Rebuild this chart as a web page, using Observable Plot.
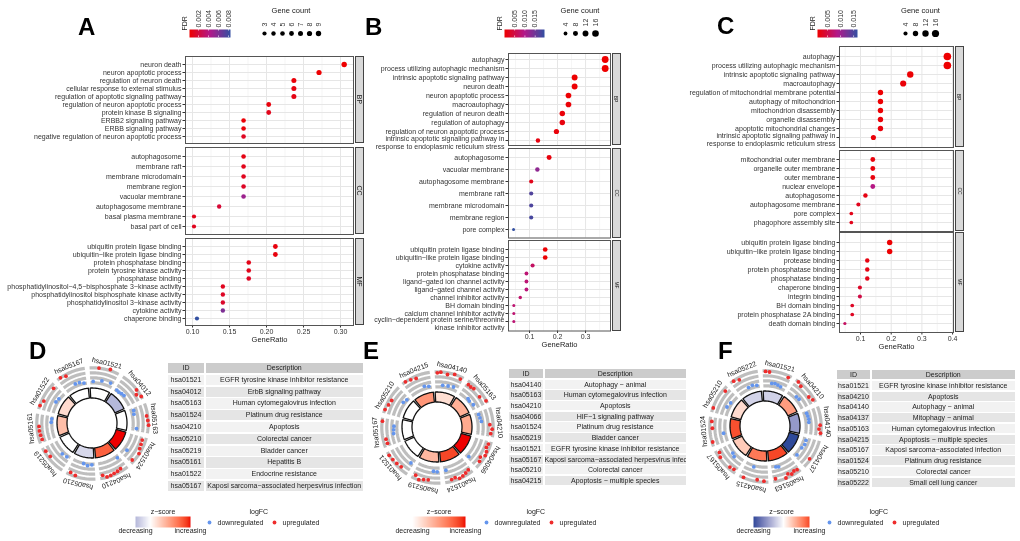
<!DOCTYPE html>
<html><head><meta charset="utf-8">
<script src="https://cdn.jsdelivr.net/npm/d3@7"></script>
<script src="https://cdn.jsdelivr.net/npm/@observablehq/plot@0.6"></script>
<style>
body{margin:0;background:#fff;}
#fig{position:relative;width:1020px;height:541px;overflow:hidden;background:#fff;font-family:"Liberation Sans",Arial,sans-serif;color:#222;}
#fig > *{will-change:transform;}
.letter{position:absolute;font-weight:bold;font-size:24px;line-height:24px;color:#000;}
.strip{position:absolute;background:#D9D9D9;border:0.8px solid #444;box-sizing:border-box;display:flex;align-items:center;justify-content:center;overflow:hidden;}
.strip span{transform:rotate(90deg);display:block;white-space:nowrap;color:#1a1a1a;}
.tbl{position:absolute;overflow:hidden;display:grid;gap:1.5px;background:#fff;font-size:7px;color:#222;}
.tbl div{display:block;text-align:center;white-space:nowrap;overflow:visible;}
</style></head><body><div id="fig"></div><script>
// ---------------- DATA ----------------
const A_terms = ["neuron death","neuron apoptotic process","regulation of neuron death","cellular response to external stimulus","regulation of apoptotic signaling pathway","regulation of neuron apoptotic process","protein kinase B signaling","ERBB2 signaling pathway","ERBB signaling pathway","negative regulation of neuron apoptotic process",
"autophagosome","membrane raft","membrane microdomain","membrane region","vacuolar membrane","autophagosome membrane","basal plasma membrane","basal part of cell",
"ubiquitin protein ligase binding","ubiquitin−like protein ligase binding","protein phosphatase binding","protein tyrosine kinase activity","phosphatase binding","phosphatidylinositol−4,5−bisphosphate 3−kinase activity","phosphatidylinositol bisphosphate kinase activity","phosphatidylinositol 3−kinase activity","cytokine activity","chaperone binding"];
const A_cat = ["BP","BP","BP","BP","BP","BP","BP","BP","BP","BP","CC","CC","CC","CC","CC","CC","CC","CC","MF","MF","MF","MF","MF","MF","MF","MF","MF","MF"];
const A_ratio = [0.305,0.271,0.237,0.237,0.237,0.203,0.203,0.169,0.169,0.169, 0.169,0.169,0.169,0.169,0.169,0.136,0.102,0.102, 0.212,0.212,0.176,0.176,0.176,0.141,0.141,0.141,0.141,0.106];
const A_count = [9,8,7,7,7,6,6,5,5,5, 5,5,5,5,5,4,3,3, 6,6,5,5,5,4,4,4,4,3];
const A_fdr = [0.0002,0.0003,0.0005,0.0007,0.0008,0.0006,0.0010,0.0004,0.0005,0.0012, 0.0008,0.0010,0.0011,0.0013,0.0050,0.0018,0.0010,0.0011, 0.0006,0.0006,0.0009,0.0010,0.0013,0.0011,0.0013,0.0015,0.0060,0.0084];

const B_terms = ["autophagy","process utilizing autophagic mechanism","intrinsic apoptotic signaling pathway","neuron death","neuron apoptotic process","macroautophagy","regulation of neuron death","regulation of autophagy","regulation of neuron apoptotic process","intrinsic apoptotic signaling pathway in\nresponse to endoplasmic reticulum stress",
"autophagosome","vacuolar membrane","autophagosome membrane","membrane raft","membrane microdomain","membrane region","pore complex",
"ubiquitin protein ligase binding","ubiquitin−like protein ligase binding","cytokine activity","protein phosphatase binding","ligand−gated ion channel activity","ligand−gated channel activity","channel inhibitor activity","BH domain binding","calcium channel inhibitor activity","cyclin−dependent protein serine/threonine\nkinase inhibitor activity"];
const B_cat = ["BP","BP","BP","BP","BP","BP","BP","BP","BP","BP","CC","CC","CC","CC","CC","CC","CC","MF","MF","MF","MF","MF","MF","MF","MF","MF","MF"];
const B_ratio = [0.370,0.370,0.261,0.261,0.239,0.239,0.217,0.217,0.196,0.130, 0.170,0.128,0.106,0.106,0.106,0.106,0.043, 0.156,0.156,0.111,0.089,0.089,0.089,0.067,0.044,0.044,0.044];
const B_count = [17,17,12,12,11,11,10,10,9,6, 8,6,5,5,5,5,2, 7,7,5,4,4,4,3,2,2,2];
const B_fdr = [0.0001,0.0001,0.0002,0.0003,0.0003,0.0006,0.0007,0.0010,0.0009,0.0012, 0.0010,0.0125,0.0020,0.0172,0.0175,0.0180,0.0195, 0.0004,0.0004,0.0070,0.0082,0.0082,0.0085,0.0076,0.0080,0.0080,0.0082];

const C_terms = ["autophagy","process utilizing autophagic mechanism","intrinsic apoptotic signaling pathway","macroautophagy","regulation of mitochondrial membrane potential","autophagy of mitochondrion","mitochondrion disassembly","organelle disassembly","apoptotic mitochondrial changes","intrinsic apoptotic signaling pathway in\nresponse to endoplasmic reticulum stress",
"mitochondrial outer membrane","organelle outer membrane","outer membrane","nuclear envelope","autophagosome","autophagosome membrane","pore complex","phagophore assembly site",
"ubiquitin protein ligase binding","ubiquitin−like protein ligase binding","protease binding","protein phosphatase binding","phosphatase binding","chaperone binding","integrin binding","BH domain binding","protein phosphatase 2A binding","death domain binding"];
const C_cat = ["BP","BP","BP","BP","BP","BP","BP","BP","BP","BP","CC","CC","CC","CC","CC","CC","CC","CC","MF","MF","MF","MF","MF","MF","MF","MF","MF","MF"];
const C_ratio = [0.383,0.383,0.262,0.239,0.165,0.165,0.165,0.165,0.165,0.142, 0.140,0.140,0.140,0.140,0.116,0.093,0.070,0.070, 0.195,0.195,0.122,0.122,0.122,0.098,0.098,0.073,0.073,0.049];
const C_count = [18,18,12,11,8,8,8,8,8,7, 6,6,6,6,5,4,3,3, 8,8,5,5,5,4,4,3,3,2];
const C_fdr = [0.0012,0.0012,0.0014,0.0016,0.0013,0.0013,0.0014,0.0016,0.0018,0.0016, 0.0018,0.0018,0.0019,0.0085,0.0022,0.0028,0.0026,0.0027, 0.0013,0.0013,0.0021,0.0022,0.0026,0.0034,0.0050,0.0032,0.0031,0.0065];
const C_fdrRange = [0.00115, 0.0165];

const A_fdrTicks = [0.002,0.004,0.006,0.008];
const BC_fdrTicks = [0.005,0.010,0.015];
const A_countTicks = [3,4,5,6,7,8,9];
const BC_countTicks = [4,8,12,16];

const D_ids = ["hsa01521","hsa04012","hsa05163","hsa01524","hsa04210","hsa05210","hsa05219","hsa05161","hsa01522","hsa05167"];
const D_desc = ["EGFR tyrosine kinase inhibitor resistance","ErbB signaling pathway","Human cytomegalovirus infection","Platinum drug resistance","Apoptosis","Colorectal cancer","Bladder cancer","Hepatitis B","Endocrine resistance","Kaposi sarcoma−associated herpesvirus infection"];
const D_z = [0,-1.1,0,3.0,2.3,-0.6,0,1.0,0.55,0];
const D_lfc = [[-1.6,2.1,-1.2,2.4,-1.0],[-1.8,-1.9,-1.7,-1.6,2.0,1.2,2.1],[-1.3,-1.5,1.8,2.0,2.2,-1.0],[1.2,1.3,1.5,2.0,-1.2,1.6],[-1.5,1.4,1.6,1.7,1.9,2.0,1.3],[-1.8,-1.5,-1.9,1.8,1.5],[-1.6,-1.4,1.5,1.7],[1.3,1.4,1.5,1.5,-1.8,-1.9],[2.0,1.5,-1.5,-1.7,1.2],[2.1,1.7,-1.3,-1.4,-1.8]];

const E_ids = ["hsa04140","hsa05163","hsa04210","hsa04066","hsa01524","hsa05219","hsa01521","hsa05167","hsa05210","hsa04215"];
const E_desc = ["Autophagy − animal","Human cytomegalovirus infection","Apoptosis","HIF−1 signaling pathway","Platinum drug resistance","Bladder cancer","EGFR tyrosine kinase inhibitor resistance","Kaposi sarcoma−associated herpesvirus infection","Colorectal cancer","Apoptosis − multiple species"];
const E_z = [0.5,1.2,1.3,3.0,2.6,1.1,0,0,0,1.6];
const E_lfc = [[1.8,2.0,-1.5,1.6,-1.4,2.1,-1.2,1.5],[1.3,1.2,1.4,-1.6,-1.8,1.1,-1.5,2.0],[-1.3,-1.2,-1.0,1.2,1.8,1.5],[1.5,1.3,1.8,2.0,1.1,1.6,-1.4],[1.2,1.5,1.8,2.0,1.4,1.6,-1.2],[-1.0,-1.1,1.4,1.6,2.0,1.2],[-1.0,1.5,1.7,1.9,2.1],[1.2,1.3,-1.0,-1.1,-1.2,2.0],[2.0,1.6,1.4,-1.5,-1.8],[2.1,1.8,1.5,-1.3,-1.6]];

const F_ids = ["hsa01521","hsa04210","hsa04140","hsa04137","hsa05163","hsa04215","hsa05167","hsa01524","hsa05210","hsa05222"];
const F_desc = ["EGFR tyrosine kinase inhibitor resistance","Apoptosis","Autophagy − animal","Mitophagy − animal","Human cytomegalovirus infection","Apoptosis − multiple species","Kaposi sarcoma−associated infection","Platinum drug resistance","Colorectal cancer","Small cell lung cancer"];
const F_z = [-0.7,1.5,-1.6,-3.0,2.6,2.0,0.8,2.5,0.55,-0.65];
const F_lfc = [[1.9,1.8,-1.2,-1.1,-1.3,-1.5,1.6],[2.0,1.5,-1.4,-1.3,1.2,1.7],[-1.3,-1.2,-1.1,-1.2,1.8,1.5,2.0],[-1.4,-1.3,-1.6,1.8,-1.5],[1.5,1.3,1.7,1.2,2.0,-1.5,-1.7,1.4],[1.8,1.6,-1.6,2.0],[1.4,1.6,-1.2,-1.6,1.8,1.3],[1.9,-1.5,1.4,1.6],[2.0,-1.3,-1.6,1.5],[2.0,1.5,-1.5,-1.3,-1.6]];

// ---------------- HELPERS ----------------
const RED = "#EE0000", MAG = "#B2188A", BLUE = "#3350A2";
const ZBLUE = "#2F4A9A";
const fig = document.getElementById("fig");
const baseStyle = {background:"transparent", overflow:"visible", maxWidth:"none", fontFamily:"'Liberation Sans', Arial, sans-serif", color:"#333"};
function place(el, left, top){ el.style.position="absolute"; el.style.left=left+"px"; el.style.top=top+"px"; fig.appendChild(el); return el; }
function letter(t, left, top){ const d=document.createElement("div"); d.className="letter"; d.textContent=t; place(d,left,top); }
function strip(label, left, top, w, h, fs){ const d=document.createElement("div"); d.className="strip"; d.style.width=w+"px"; d.style.height=h+"px"; const s=document.createElement("span"); s.textContent=label; s.style.fontSize=fs+"px"; d.appendChild(s); place(d,left,top); }
function fdrColor(domain){ return {type:"linear", domain:[domain[0], (domain[0]+domain[1])/2, domain[1]], range:[RED,MAG,BLUE], interpolate:"rgb"}; }
const isMulti = t => t.includes("\n");

function dotPanel(terms, cat, ratio, count, fdr, cfg){
  const rows = terms.map((t,i)=>({term:t, cat:cat[i], ratio:ratio[i], count:count[i], fdr:fdr[i]}));
  ["BP","CC","MF"].forEach((c,k)=>{
    const data = rows.filter(d=>d.cat===c);
    const [top,bottom] = cfg.facets[c];
    const last = k===2;
    const ML=200, MT=1, MB = last?26:1, W = cfg.plotRight-cfg.plotLeft;
    const chart = Plot.plot({
      width: ML+W+1, height: MT+(bottom-top)+MB,
      marginLeft: ML, marginRight:1, marginTop:MT, marginBottom:MB,
      style: baseStyle,
      x: {domain: cfg.xDomain, axis:null},
      y: {type:"point", domain: data.map(d=>d.term), padding:0.6, axis:null},
      color: fdrColor(cfg.fdrDomain),
      r: cfg.r,
      marks: [
        Plot.gridX(cfg.xMinor, {stroke:"#EFEFEF", strokeOpacity:1, strokeWidth:0.6}),
        Plot.gridX(cfg.xTicks, {stroke:"#E6E6E6", strokeOpacity:1, strokeWidth:1}),
        Plot.gridY({stroke:"#E6E6E6", strokeOpacity:1, strokeWidth:1}),
        Plot.axisY({tickSize:2.5, tickPadding:1.5, fontSize:7, label:null, tickFormat:t=>isMulti(t)?"":t}),
        Plot.text(data.filter(d=>isMulti(d.term)), {y:"term", text:"term", frameAnchor:"left", textAnchor:"end", lineAnchor:"top", dx:-4, dy:-4.8, fontSize:7, lineHeight:1.15, fill:"currentColor"}),
        last ? Plot.axisX({ticks:cfg.xTicks, tickFormat:cfg.xFormat, tickSize:2.5, tickPadding:1, fontSize:7, label:null}) : null,
        last ? Plot.text(["GeneRatio"], {frameAnchor:"bottom", dy:cfg.titleDy, fontSize:7.5, fill:"#222"}) : null,
        Plot.dot(data, {x:"ratio", y:"term", r:"count", fill:"fdr"}),
        Plot.frame({stroke:"#555", strokeWidth:1})
      ]
    });
    place(chart, cfg.plotLeft-ML, top-MT);
    strip(c, cfg.plotRight+1.5, top, 9, bottom-top, cfg.stripFont);
  });
}

function fdrLegend(domain, ticks, barLeft, barRight, barTop){
  const MT=22, ML=12;
  const chart = Plot.plot({
    width: ML+(barRight-barLeft)+2, height: MT+8+1,
    marginLeft:ML, marginRight:2, marginTop:MT, marginBottom:1,
    style: baseStyle,
    x:{domain, axis:null}, y:{domain:[0,1], axis:null},
    color: fdrColor(domain),
    marks:[
      Plot.raster({fill:(x,y)=>x, x1:domain[0], x2:domain[1], y1:0, y2:1, width:80, height:2, imageRendering:"auto"}),
      Plot.ruleX(ticks, {x:d=>d, y1:0, y2:0.2, stroke:"white", strokeWidth:0.6}),
      Plot.ruleX(ticks, {x:d=>d, y1:0.8, y2:1, stroke:"white", strokeWidth:0.6}),
      Plot.axisX({anchor:"top", ticks, tickFormat:d3.format(".3f"), tickRotate:-90, tickSize:0, tickPadding:2, fontSize:7}),
      Plot.text(["FDR"], {frameAnchor:"left", rotate:-90, dx:-5, dy:-3, fontSize:7, fill:"#222"})
    ]
  });
  place(chart, barLeft-ML, barTop-MT);
}

function countLegend(values, rOpts, x0, x1){
  const ML=12, MR=12, MT=30;
  const chart = Plot.plot({
    width: ML+(x1-x0)+MR, height:38, marginLeft:ML, marginRight:MR, marginTop:MT, marginBottom:2,
    style: baseStyle,
    x:{type:"point", domain:values, padding:0, axis:null}, r:rOpts,
    marks:[
      Plot.axisX({anchor:"top", tickRotate:-90, tickSize:0, tickPadding:4, fontSize:7}),
      Plot.dot(values, {x:d=>d, r:d=>d, fill:"black"}),
      Plot.text(["Gene count"], {frameAnchor:"top", dy:-23, fontSize:7.5, fill:"#222"})
    ]
  });
  place(chart, x0-ML, 0);
}

function circlePanel(ids, z, lfc, cx, cy){
  const n=ids.length, step=360/n, rad=Math.PI/180;
  const M = d3.max(z, v=>Math.abs(v));
  const color = {type:"linear", domain:[-M,0,M], range:[ZBLUE,"#ffffff",RED], interpolate:"lab"};
  const RI=25, RO=35, bands=[40.7,45.7,50.7,55.7];
  const arc=(a0,a1,k)=>d3.range(k+1).map(j=>(a0+(a1-a0)*j/k)*rad);
  const ring = ids.flatMap((id,i)=>arc(i*step-3, i*step+30, 24).map(a=>({id, z:z[i], x1:RO*Math.sin(a), y1:RO*Math.cos(a), x2:RI*Math.sin(a), y2:RI*Math.cos(a)})));
  const bandPts = ids.flatMap((id,i)=>bands.flatMap((r,b)=>arc(i*step-3, i*step+28, 20).map(a=>({key:id+"-"+b, x:r*Math.sin(a), y:r*Math.cos(a)}))));
  const genes = ids.flatMap((id,i)=>lfc[i].map((v,j)=>{ const a=(i*step-2+29*(j+0.5)/lfc[i].length)*rad; const r=48+v*3.7; return {v, x:r*Math.sin(a), y:r*Math.cos(a)}; }));
  const labels = ids.map((id,i)=>{ const a=i*step+13.5; return {id, rot:a, x:62*Math.sin(a*rad), y:62*Math.cos(a*rad)}; });
  const S=150;
  const chart = Plot.plot({
    width:S, height:S, margin:0, style: baseStyle,
    x:{domain:[-S/2,S/2], axis:null}, y:{domain:[-S/2,S/2], axis:null}, color,
    marks:[
      Plot.line(bandPts, {x:"x", y:"y", z:"key", stroke:"#BEBEBE", strokeWidth:3.2, strokeLinecap:"butt"}),
      Plot.dot(genes.filter(d=>d.v<0), {x:"x", y:"y", r:1.9, fill:"#6495ED"}),
      Plot.dot(genes.filter(d=>d.v>0), {x:"x", y:"y", r:1.9, fill:"#EE2C2C"}),
      Plot.area(ring, {x1:"x1", y1:"y1", x2:"x2", y2:"y2", z:"id", fill:"z", stroke:"#111", strokeWidth:1.3}),
      Plot.text(labels, {x:"x", y:"y", text:"id", rotate:"rot", fontSize:7, fill:"#222"})
    ]
  });
  place(chart, cx-S/2, cy-S/2);
  return color;
}

function zLegend(z, color, barLeft, barRight){
  const zmin=d3.min(z), zmax=d3.max(z);
  const chart = Plot.plot({
    width:(barRight-barLeft)+40, height:40, marginLeft:20, marginRight:20, marginTop:14, marginBottom:15,
    style: baseStyle,
    x:{domain:[zmin,zmax], axis:null}, y:{domain:[0,1], axis:null}, color,
    marks:[
      Plot.raster({fill:(x,y)=>x, x1:zmin, x2:zmax, y1:0, y2:1, width:100, height:2, imageRendering:"auto"}),
      Plot.text(["z−score"], {frameAnchor:"top", dy:-7, fontSize:7, fill:"#222"}),
      Plot.text([{v:zmin,t:"decreasing"},{v:zmax,t:"increasing"}], {x:"v", text:"t", frameAnchor:"bottom", dy:5, fontSize:7, fill:"#222"})
    ]
  });
  place(chart, barLeft-20, 502);
}

function lfcLegend(left){
  const chart = Plot.plot({
    width:150, height:26, marginLeft:10, marginRight:75, marginTop:14, marginBottom:0,
    style: baseStyle,
    x:{type:"point", domain:["downregulated","upregulated"], padding:0, axis:null},
    marks:[
      Plot.dot(["downregulated"], {x:d=>d, r:1.9, fill:"#6495ED"}),
      Plot.dot(["upregulated"], {x:d=>d, r:1.9, fill:"#EE2C2C"}),
      Plot.text(["downregulated","upregulated"], {x:d=>d, text:d=>d, textAnchor:"start", dx:8, fontSize:7, fill:"#222"}),
      Plot.text(["logFC"], {frameAnchor:"top-left", dx:40, dy:-7, fontSize:7, fill:"#222"})
    ]
  });
  place(chart, left-10, 502);
}

function table(ids, desc, left, top, colW, rowH, width){
  const el=document.createElement("div"); el.className="tbl";
  el.style.gridTemplateColumns=`${colW[0]}px ${colW[1]}px`;
  el.style.gridAutoRows=`${rowH-1.5}px`;
  el.style.width=width+"px";
  const rows=[["ID","Description"], ...ids.map((d,i)=>[d,desc[i]])];
  rows.forEach((r,i)=>r.forEach(t=>{ const c=document.createElement("div"); c.textContent=t; c.style.lineHeight=(rowH-1.5)+"px"; c.style.background = i===0?"#CCCCCC":(i%2?"#F2F2F2":"#E5E5E5"); el.appendChild(c); }));
  place(el,left,top);
}

// ---------------- PANELS ----------------
dotPanel(A_terms, A_cat, A_ratio, A_count, A_fdr, {
  fdrDomain: d3.extent(A_fdr), r:{type:"linear", domain:[3,9], range:[2.1,2.7]},
  xDomain:[0.0905,0.3176], xTicks:[0.10,0.15,0.20,0.25,0.30], xMinor:[0.125,0.175,0.225,0.275], xFormat:d3.format(".2f"),
  plotLeft:185, plotRight:353, facets:{BP:[56,143], CC:[147,234], MF:[238,325]}, stripFont:7, titleDy:16
});
dotPanel(B_terms, B_cat, B_ratio, B_count, B_fdr, {
  fdrDomain: d3.extent(B_fdr), r:{type:"sqrt", domain:[2,17], range:[1.5,3.4]},
  xDomain:[0.025,0.389], xTicks:[0.1,0.2,0.3], xMinor:[0.05,0.15,0.25,0.35], xFormat:d3.format(".1f"),
  plotLeft:508, plotRight:610, facets:{BP:[53,145], CC:[147.5,237], MF:[239.5,330]}, stripFont:5, titleDy:16
});
dotPanel(C_terms, C_cat, C_ratio, C_count, C_fdr, {
  fdrDomain: C_fdrRange, r:{type:"sqrt", domain:[2,18], range:[1.6,3.8]},
  xDomain:[0.0315,0.403], xTicks:[0.1,0.2,0.3,0.4], xMinor:[0.05,0.15,0.25,0.35], xFormat:d3.format(".1f"),
  plotLeft:839, plotRight:953, facets:{BP:[46,147], CC:[149.5,230.5], MF:[232,332]}, stripFont:5, titleDy:16
});

fdrLegend(d3.extent(A_fdr), A_fdrTicks, 189, 230, 29);
fdrLegend(d3.extent(B_fdr), BC_fdrTicks, 504, 544, 29);
fdrLegend(C_fdrRange, BC_fdrTicks, 817, 857, 29);
countLegend(A_countTicks, {type:"linear", domain:[3,9], range:[2.1,2.7]}, 262, 319);
countLegend(BC_countTicks, {type:"sqrt", domain:[2,17], range:[1.5,3.4]}, 564, 595);
countLegend(BC_countTicks, {type:"sqrt", domain:[2,18], range:[1.6,3.8]}, 904, 936);

const Dc = circlePanel(D_ids, D_z, D_lfc, 91.5, 423);
const Ec = circlePanel(E_ids, E_z, E_lfc, 436.5, 426.5);
const Fc = circlePanel(F_ids, F_z, F_lfc, 764.5, 426);
zLegend(D_z, Dc, 135, 190); lfcLegend(209);
zLegend(E_z, Ec, 412, 465); lfcLegend(486);
zLegend(F_z, Fc, 753, 809); lfcLegend(829);

table(D_ids, D_desc, 168, 363, [36,157.5], 11.8, 195);
table(E_ids, E_desc, 509, 369, [34,141.5], 10.7, 177);
table(F_ids, F_desc, 837, 370, [33,143.5], 10.75, 178);

letter("A",78,15); letter("B",365,15); letter("C",717,14);
letter("D",29,339); letter("E",363,339); letter("F",718,339);
</script></body></html>
